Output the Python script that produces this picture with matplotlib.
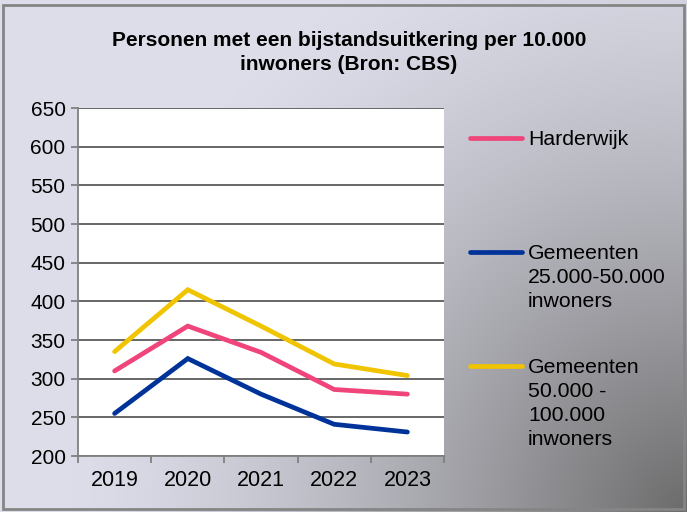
import numpy as np
import matplotlib
matplotlib.use("Agg")
import matplotlib.pyplot as plt
from matplotlib.lines import Line2D
from matplotlib.patches import Rectangle

plt.rcParams['font.family'] = ['Liberation Sans', 'DejaVu Sans']

years = ["2019", "2020", "2021", "2022", "2023"]
harderwijk = [310, 368, 334, 286, 280]
gem_25_50 = [255, 326, 280, 241, 231]
gem_50_100 = [335, 415, 368, 319, 304]
labels = ["Harderwijk", "Gemeenten\n25.000-50.000\ninwoners", "Gemeenten\n50.000 -\n100.000\ninwoners"]
colors = ["#F0457A", "#003399", "#F0C400"]
title = "Personen met een bijstandsuitkering per 10.000\ninwoners (Bron: CBS)"

W, H = 687, 512
fig = plt.figure(figsize=(W / 100, H / 100), dpi=100)

# gradient background
bg = fig.add_axes([0, 0, 1, 1], zorder=-10)
yy, xx = np.mgrid[0:H, 0:W]
d = np.sqrt((W - xx) ** 2 + (H - yy) ** 2)
g = np.clip(1 - d / 620.0, 0, 1) ** 1.4
light = np.array([0.865, 0.867, 0.915])
dark = np.array([0.42, 0.42, 0.42])
img = light[None, None, :] * (1 - g[..., None]) + dark[None, None, :] * g[..., None]
bg.imshow(img, extent=[0, W, H, 0], aspect='auto', interpolation='bilinear')
bg.set_xlim(0, W)
bg.set_ylim(H, 0)
bg.axis('off')
bg.add_patch(Rectangle((3, 5), W - 6, H - 8, fill=False, edgecolor='#858585', linewidth=2))

ax = fig.add_axes([78 / W, 1 - 456 / H, (444 - 78) / W, (456 - 108) / H])
ax.set_facecolor('white')
x = np.arange(len(years))
series = [harderwijk, gem_25_50, gem_50_100]
for vals, c, lab in zip(series, colors, labels):
    ax.plot(x, vals, color=c, linewidth=3.4, solid_capstyle='round', solid_joinstyle='miter', label=lab, zorder=3)

ax.set_xlim(-0.5, len(years) - 0.5)
ax.set_ylim(200, 650)
ax.set_yticks(np.arange(200, 651, 50))
ax.yaxis.grid(True, color='#5a5a5a', linewidth=1.3)
ax.set_axisbelow(True)
ax.set_xticks(x)
ax.set_xticklabels(years)
ax.set_xticks(np.arange(-0.5, len(years), 1.0), minor=True)
ax.tick_params(axis='x', which='major', length=0, labelsize=15.5, pad=10)
ax.tick_params(axis='x', which='minor', length=5, color='#808080', width=1.3, direction='out')
ax.tick_params(axis='y', length=5, color='#808080', width=1.3, labelsize=15, pad=4)
for s in ['top', 'right']:
    ax.spines[s].set_visible(False)
for s in ['left', 'bottom']:
    ax.spines[s].set_color('#808080')
    ax.spines[s].set_linewidth(1.3)

for i, line in enumerate(title.split('\n')):
    fig.text(349 / W, 1 - (46 + 24 * i) / H, line, ha='center', va='baseline',
             fontsize=15, fontweight='bold')

# legend
leg_y = [138, 252, 366]
for c, lab, ly in zip(colors, labels, leg_y):
    fig.add_artist(Line2D([470 / W, 522 / W], [1 - ly / H, 1 - ly / H], color=c,
                          linewidth=3.4, solid_capstyle='round', transform=fig.transFigure))
    for i, line in enumerate(lab.split('\n')):
        fig.text(528 / W, 1 - (ly + 7 + 24 * i) / H, line, ha='left', va='baseline', fontsize=15.3)

fig.savefig('out.png', dpi=100)
